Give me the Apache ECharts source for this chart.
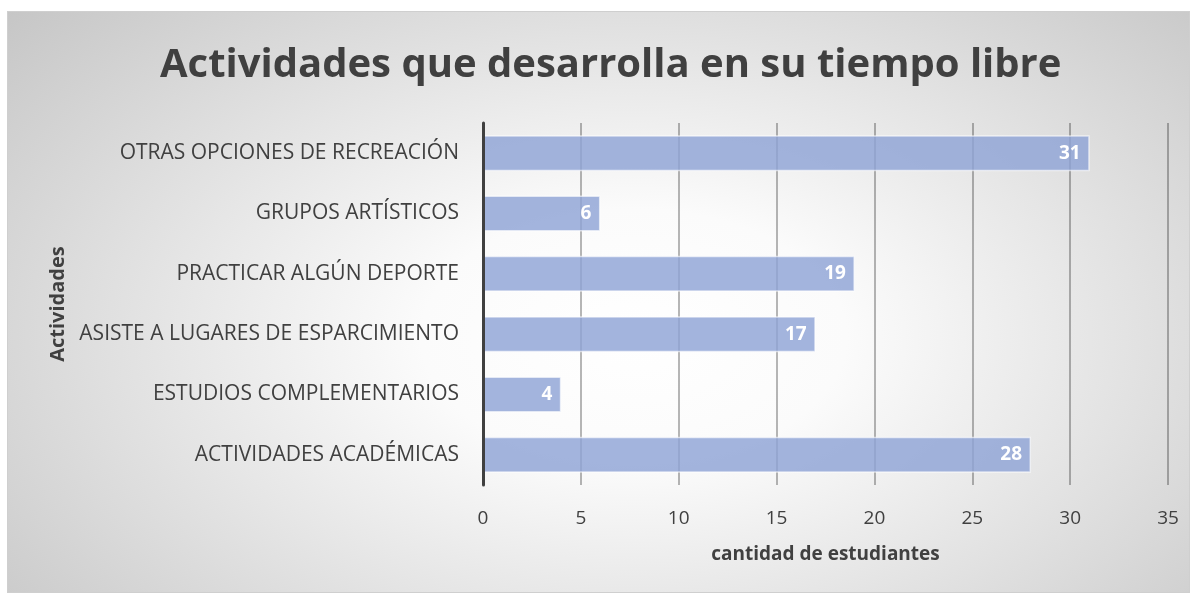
<!DOCTYPE html>
<html>
<head>
<meta charset="utf-8">
<script src="https://cdn.jsdelivr.net/npm/echarts@6/dist/echarts.min.js"></script>
<style>
  html, body { margin: 0; padding: 0; background: #fff; }
  #wrap {
    position: absolute; left: 7px; top: 11px; width: 1183px; height: 582px;
    box-sizing: border-box; border: 1px solid #cfcfcf;
    background: radial-gradient(ellipse 72% 88% at 53% 56%, #ffffff 0%, #fbfbfb 25%, #c4c4c4 100%);
  }
  #center { width: 1181px; height: 580px; }
</style>
</head>
<body>
<div id="wrap"><div id="center"></div></div>
<script>
// categorias (de abajo hacia arriba) y valores
var categorias = ['ACTIVIDADES ACADÉMICAS', 'ESTUDIOS COMPLEMENTARIOS', 'ASISTE A LUGARES DE ESPARCIMIENTO',
    'PRACTICAR ALGÚN DEPORTE', 'GRUPOS ARTÍSTICOS', 'OTRAS OPCIONES DE RECREACIÓN'];
var valores = [28, 4, 17, 19, 6, 31];
var ticksX = [0, 5, 10, 15, 20, 25, 30, 35];

var myChart = echarts.init(document.getElementById('center'));
var fuente = '"Open Sans", "Noto Sans", sans-serif';

var option = {
    backgroundColor: 'transparent',
    title: {
        text: 'Actividades que desarrolla en su tiempo libre',
        left: 147,
        top: 29,
        textStyle: { fontFamily: fuente, fontSize: 40, fontWeight: 'bold', color: '#404040' }
    },
    grid: { left: 475, right: 21, top: 111, bottom: 107 },
    xAxis: {
        type: 'value',
        min: ticksX[0],
        max: ticksX[ticksX.length - 1],
        interval: 5,
        name: 'cantidad de estudiantes',
        nameLocation: 'middle',
        nameGap: 60,
        nameTextStyle: { fontFamily: fuente, fontSize: 19, fontWeight: 'bold', color: '#404040' },
        axisLine: { show: false },
        axisTick: { show: false },
        axisLabel: { fontFamily: fuente, fontSize: 19, color: '#404040', margin: 24 },
        splitLine: { lineStyle: { color: 'rgba(0,0,0,0.38)', width: 1.5 } }
    },
    yAxis: {
        type: 'category',
        data: categorias,
        z: 10,
        name: 'Actividades',
        nameLocation: 'middle',
        nameGap: 415,
        nameRotate: 90,
        nameTextStyle: { fontFamily: fuente, fontSize: 20, fontWeight: 'bold', color: '#404040' },
        axisLine: { lineStyle: { color: '#404040', width: 3 } },
        axisTick: { show: false },
        axisLabel: { fontFamily: fuente, fontSize: 21, color: '#404040', margin: 24 }
    },
    series: [{
        type: 'bar',
        data: valores,
        barWidth: 36,
        itemStyle: { color: 'rgba(143,163,214,0.82)', borderColor: 'rgba(255,255,255,0.6)', borderWidth: 1.5 },
        label: {
            show: true,
            position: 'insideRight',
            distance: 9,
            fontFamily: fuente,
            fontSize: 19,
            fontWeight: 'bold',
            color: '#ffffff'
        }
    }]
};

myChart.setOption(option);
</script>
</body>
</html>
